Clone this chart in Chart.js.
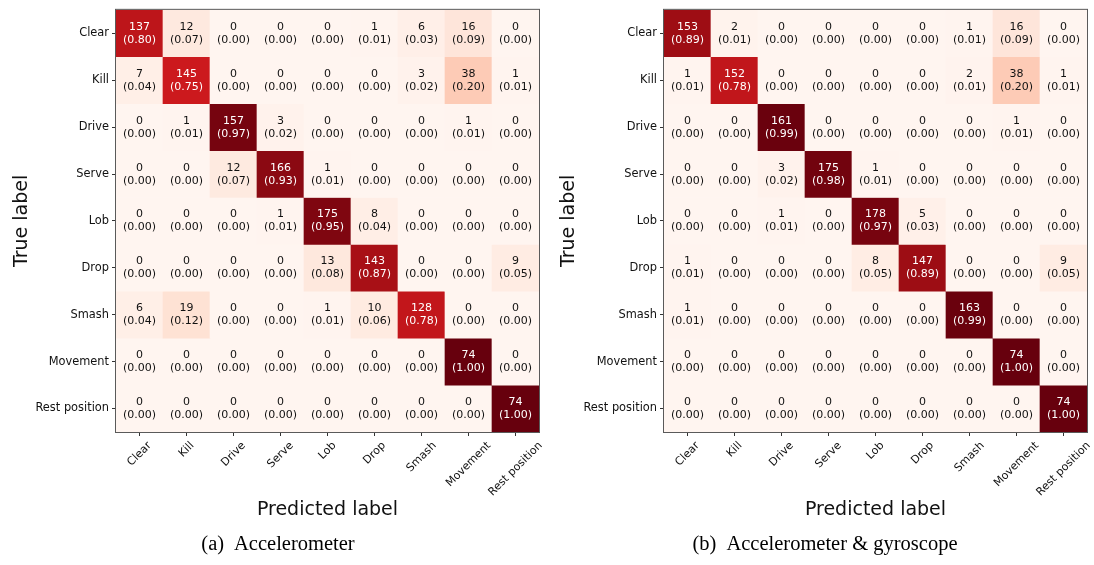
<!DOCTYPE html>
<html>
<head>
<meta charset="utf-8">
<script src="https://cdn.jsdelivr.net/npm/chart.js@4.4.1/dist/chart.umd.min.js"></script>
<style>
  html, body { margin: 0; padding: 0; background: #ffffff; }
  body { width: 1094px; height: 565px; position: relative; overflow: hidden; }
  .panel { position: absolute; top: 0; width: 547px; height: 565px; }
</style>
</head>
<body>
<div class="panel" style="left:0"><canvas id="cmAccel" width="547" height="565"></canvas></div>
<div class="panel" style="left:547px"><canvas id="cmAccelGyro" width="547" height="565"></canvas></div>
<script>
// Stroke classes (rows = true label, columns = predicted label)
const classLabels = ['Clear', 'Kill', 'Drive', 'Serve', 'Lob', 'Drop', 'Smash', 'Movement', 'Rest position'];

// Confusion counts, accelerometer only
const countsAccel = [
  [137,  12,   0,   0,   0,   1,   6,  16,   0],
  [  7, 145,   0,   0,   0,   0,   3,  38,   1],
  [  0,   1, 157,   3,   0,   0,   0,   1,   0],
  [  0,   0,  12, 166,   1,   0,   0,   0,   0],
  [  0,   0,   0,   1, 175,   8,   0,   0,   0],
  [  0,   0,   0,   0,  13, 143,   0,   0,   9],
  [  6,  19,   0,   0,   1,  10, 128,   0,   0],
  [  0,   0,   0,   0,   0,   0,   0,  74,   0],
  [  0,   0,   0,   0,   0,   0,   0,   0,  74]
];

// Confusion counts, accelerometer + gyroscope
const countsAccelGyro = [
  [153,   2,   0,   0,   0,   0,   1,  16,   0],
  [  1, 152,   0,   0,   0,   0,   2,  38,   1],
  [  0,   0, 161,   0,   0,   0,   0,   1,   0],
  [  0,   0,   3, 175,   1,   0,   0,   0,   0],
  [  0,   0,   1,   0, 178,   5,   0,   0,   0],
  [  1,   0,   0,   0,   8, 147,   0,   0,   9],
  [  1,   0,   0,   0,   0,   0, 163,   0,   0],
  [  0,   0,   0,   0,   0,   0,   0,  74,   0],
  [  0,   0,   0,   0,   0,   0,   0,   0,  74]
];

const captionAccel = ['(a)', 'Accelerometer'];
const captionAccelGyro = ['(b)', 'Accelerometer & gyroscope'];
const xAxisTitle = 'Predicted label';
const yAxisTitle = 'True label';

// Sequential "Reds" colour ramp
const redsStops = [
  [255, 245, 240], [254, 224, 210], [252, 187, 161], [252, 146, 114],
  [251, 106,  74], [239,  59,  44], [203,  24,  29], [165,  15,  21], [103,   0,  13]
];
function reds(t) {
  const v = Math.max(0, Math.min(1, t)) * (redsStops.length - 1);
  const i = Math.min(Math.floor(v), redsStops.length - 2);
  const f = v - i;
  const a = redsStops[i], b = redsStops[i + 1];
  const c = a.map((x, k) => Math.round(x + (b[k] - x) * f));
  return `rgb(${c[0]},${c[1]},${c[2]})`;
}

function rowShares(counts) {
  return counts.map(row => {
    const total = row.reduce((s, v) => s + v, 0);
    return row.map(v => v / total);
  });
}

const SANS = '"DejaVu Sans", sans-serif';
const SERIF = '"Liberation Serif", "Times New Roman", serif';

function makeMatrix(canvasId, counts, caption, plotLeft) {
  const shares = rowShares(counts);
  const cell = 47;
  const plotTop = 9;
  const plotSize = cell * classLabels.length;
  const W = 547, H = 565;

  const datasets = counts.map((row, r) => ({
    label: classLabels[r],
    data: row.map(() => [r - 0.5, r + 0.5]),
    backgroundColor: shares[r].map(reds),
    borderWidth: 0,
    barPercentage: 1,
    categoryPercentage: 1,
    grouped: false
  }));

  const annotate = {
    id: 'matrixText',
    afterDatasetsDraw(chart) {
      const { ctx, chartArea } = chart;
      const xs = chart.scales.x, ys = chart.scales.y;
      ctx.save();
      ctx.font = `11px ${SANS}`;
      ctx.textAlign = 'center';
      ctx.textBaseline = 'alphabetic';
      counts.forEach((row, r) => {
        row.forEach((v, c) => {
          const cx = xs.getPixelForValue(c);
          const cy = ys.getPixelForValue(r);
          ctx.fillStyle = shares[r][c] > 0.5 ? '#ffffff' : '#111111';
          ctx.fillText(String(v), cx, cy - 3.5);
          ctx.fillText(`(${shares[r][c].toFixed(2)})`, cx, cy + 9.5);
        });
      });
      // frame around the matrix
      ctx.strokeStyle = '#5a5a5a';
      ctx.lineWidth = 1;
      ctx.strokeRect(chartArea.left - 0.5, chartArea.top - 0.5,
                     chartArea.right - chartArea.left + 1, chartArea.bottom - chartArea.top + 1);
      ctx.restore();
    },
    afterDraw(chart) {
      const { ctx, chartArea } = chart;
      const xs = chart.scales.x;
      ctx.save();
      ctx.fillStyle = '#111111';
      // rotated predicted-class labels, centred under each tick
      ctx.font = `11px ${SANS}`;
      ctx.textAlign = 'center';
      ctx.textBaseline = 'middle';
      const h = 11;
      classLabels.forEach((lab, j) => {
        const w = ctx.measureText(lab).width;
        const half = (w + h) / 2 * Math.SQRT1_2;
        const tx = xs.getPixelForValue(j);
        const ty = chartArea.bottom + 8 + half;
        ctx.save();
        ctx.translate(tx, ty);
        ctx.rotate(-Math.PI / 4);
        ctx.fillText(lab, 0, 0);
        ctx.restore();
      });
      // axis titles
      ctx.font = `19px ${SANS}`;
      ctx.textBaseline = 'alphabetic';
      ctx.fillText(xAxisTitle, (chartArea.left + chartArea.right) / 2, 515);
      ctx.save();
      ctx.translate(27, (chartArea.top + chartArea.bottom) / 2);
      ctx.rotate(-Math.PI / 2);
      ctx.fillText(yAxisTitle, 0, 0);
      ctx.restore();
      // sub-figure caption
      ctx.font = `20.5px ${SERIF}`;
      ctx.fillStyle = '#000000';
      ctx.textAlign = 'left';
      const gap = 10;
      const w1 = ctx.measureText(caption[0]).width;
      const w2 = ctx.measureText(caption[1]).width;
      const x0 = 278 - (w1 + gap + w2) / 2;
      ctx.fillText(caption[0], x0, 550);
      ctx.fillText(caption[1], x0 + w1 + gap, 550);
      ctx.restore();
    }
  };

  return new Chart(document.getElementById(canvasId), {
    type: 'bar',
    data: { labels: classLabels, datasets },
    options: {
      responsive: false,
      animation: false,
      devicePixelRatio: 1,
      layout: { padding: { left: 0, top: plotTop, right: W - plotLeft - plotSize, bottom: 0 } },
      plugins: { legend: { display: false }, tooltip: { enabled: false } },
      scales: {
        x: {
          type: 'category',
          offset: true,
          grid: { display: true, drawOnChartArea: false, offset: false, drawTicks: true, tickLength: 4, color: '#333333', lineWidth: 1 },
          border: { display: false },
          ticks: { display: false },
          afterFit: s => { s.height = H - plotTop - plotSize; }
        },
        y: {
          type: 'linear',
          reverse: true,
          min: -0.5,
          max: 8.5,
          grid: { display: true, drawOnChartArea: false, drawTicks: true, tickLength: 4, color: '#333333', lineWidth: 1 },
          border: { display: false },
          afterBuildTicks: s => { s.ticks = classLabels.map((_, i) => ({ value: i })); },
          ticks: {
            autoSkip: false,
            padding: 3,
            color: '#111111',
            font: { family: SANS, size: 11.4 },
            callback: v => classLabels[v]
          },
          afterFit: s => { s.width = plotLeft; }
        }
      }
    },
    plugins: [annotate]
  });
}

makeMatrix('cmAccel', countsAccel, captionAccel, 116);
makeMatrix('cmAccelGyro', countsAccelGyro, captionAccelGyro, 117);
</script>
</body>
</html>
